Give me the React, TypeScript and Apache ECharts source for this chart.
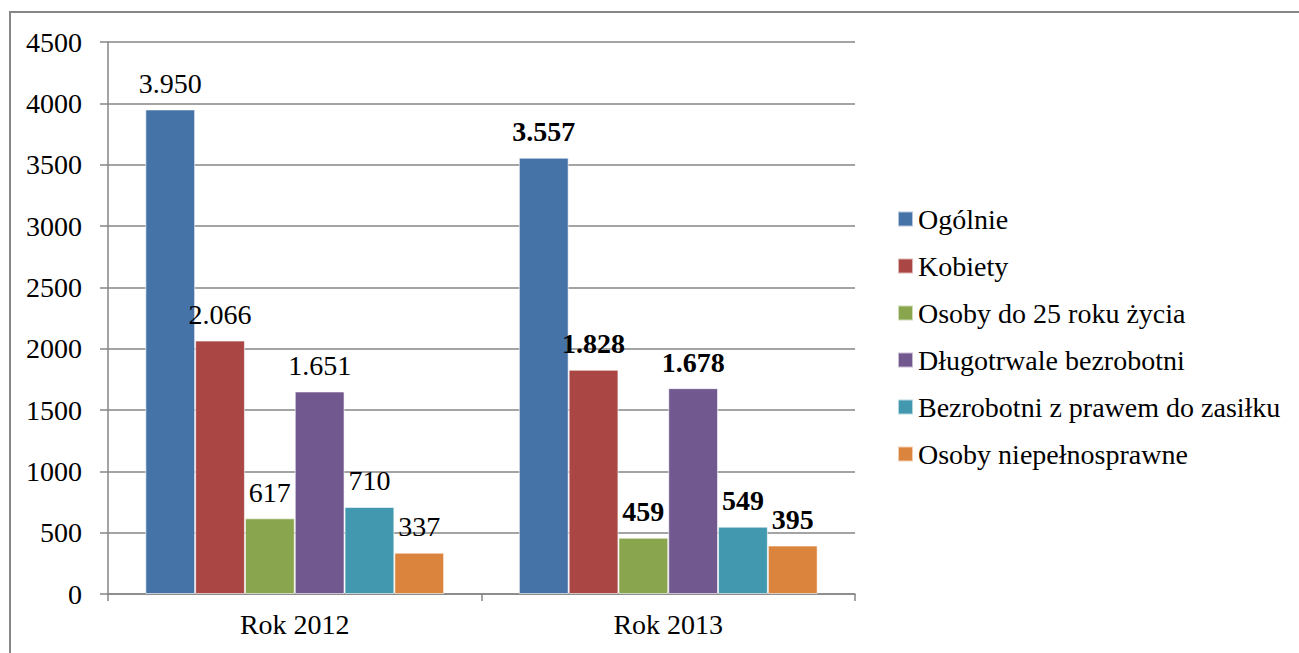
import React, { useEffect, useRef } from "react";
import * as echarts from "echarts";

const categories = ["Rok 2012", "Rok 2013"];
const seriesNames = [
  "Ogólnie",
  "Kobiety",
  "Osoby do 25 roku życia",
  "Długotrwale bezrobotni",
  "Bezrobotni z prawem do zasiłku",
  "Osoby niepełnosprawne",
];
const ogolnie = [3950, 3557];
const kobiety = [2066, 1828];
const doDwudziestuPieciu = [617, 459];
const dlugotrwale = [1651, 1678];
const zZasilkiem = [710, 549];
const niepelnosprawne = [337, 395];
const yTicks = { min: 0, max: 4500, interval: 500 };
const colors = ["#4572A7", "#AA4643", "#89A54E", "#71588F", "#4198AF", "#DB843D"];
const boldCategory = [false, true];

const FONT = "Liberation Serif";

const fmt = (v: number) => {
  const s = String(Math.round(v));
  return s.replace(/\B(?=(\d{3})+(?!\d))/g, ".");
};

export default function App() {
  const ref = useRef<HTMLDivElement>(null);
  useEffect(() => {
    if (!ref.current) return;
    const chart = echarts.init(ref.current, undefined, { renderer: "svg" });
    const allValues = [ogolnie, kobiety, doDwudziestuPieciu, dlugotrwale, zZasilkiem, niepelnosprawne];
    const series = allValues.map((vals, i) => ({
      name: seriesNames[i],
      type: "bar",
      barGap: "0%",
      barCategoryGap: "20%",
      itemStyle: { color: colors[i], borderColor: "rgba(255,255,255,0.6)", borderWidth: 1 },
      label: {
        show: true,
        position: "top",
        distance: 12,
        color: "#000",
        fontFamily: FONT,
        fontSize: 28,
        formatter: (p: any) => fmt(p.value),
      },
      data: vals.map((v, j) => ({
        value: v,
        label: { fontWeight: boldCategory[j] ? "bold" : "normal" },
      })),
    }));
    chart.setOption({
      animation: false,
      color: colors,
      textStyle: { fontFamily: FONT },
      graphic: [
        {
          type: "rect",
          shape: { x: 10, y: 12, width: 1300, height: 660 },
          style: { fill: "none", stroke: "#868686", lineWidth: 2 },
          silent: true,
        },
      ],
      grid: { left: 108, right: 444, top: 42, bottom: 59, containLabel: false },
      legend: {
        orient: "vertical",
        left: 892,
        top: 200,
        icon: "rect",
        itemWidth: 15,
        itemHeight: 15,
        itemGap: 19,
        textStyle: { fontFamily: FONT, fontSize: 28, lineHeight: 28, color: "#000" },
        data: seriesNames,
      },
      xAxis: {
        type: "category",
        data: categories,
        axisLine: { show: true, lineStyle: { color: "#868686", width: 1.5 } },
        axisTick: { show: true, length: 7, lineStyle: { color: "#868686", width: 1.5 } },
        axisLabel: { fontFamily: FONT, fontSize: 28, color: "#000", margin: 16 },
      },
      yAxis: {
        type: "value",
        min: yTicks.min,
        max: yTicks.max,
        interval: yTicks.interval,
        axisLine: { show: true, lineStyle: { color: "#868686", width: 1.5 } },
        axisTick: { show: true, length: 8, lineStyle: { color: "#868686", width: 1.5 } },
        splitLine: { show: true, lineStyle: { color: "#868686", width: 1.5 } },
        axisLabel: {
          fontFamily: FONT,
          fontSize: 28,
          color: "#000",
          margin: 26,
          formatter: (v: number) => String(v),
        },
      },
      series,
    });
    return () => chart.dispose();
  }, []);
  return (
    <div
      ref={ref}
      style={{ position: "fixed", left: 0, top: 0, width: 1299, height: 653, background: "#fff" }}
    />
  );
}
